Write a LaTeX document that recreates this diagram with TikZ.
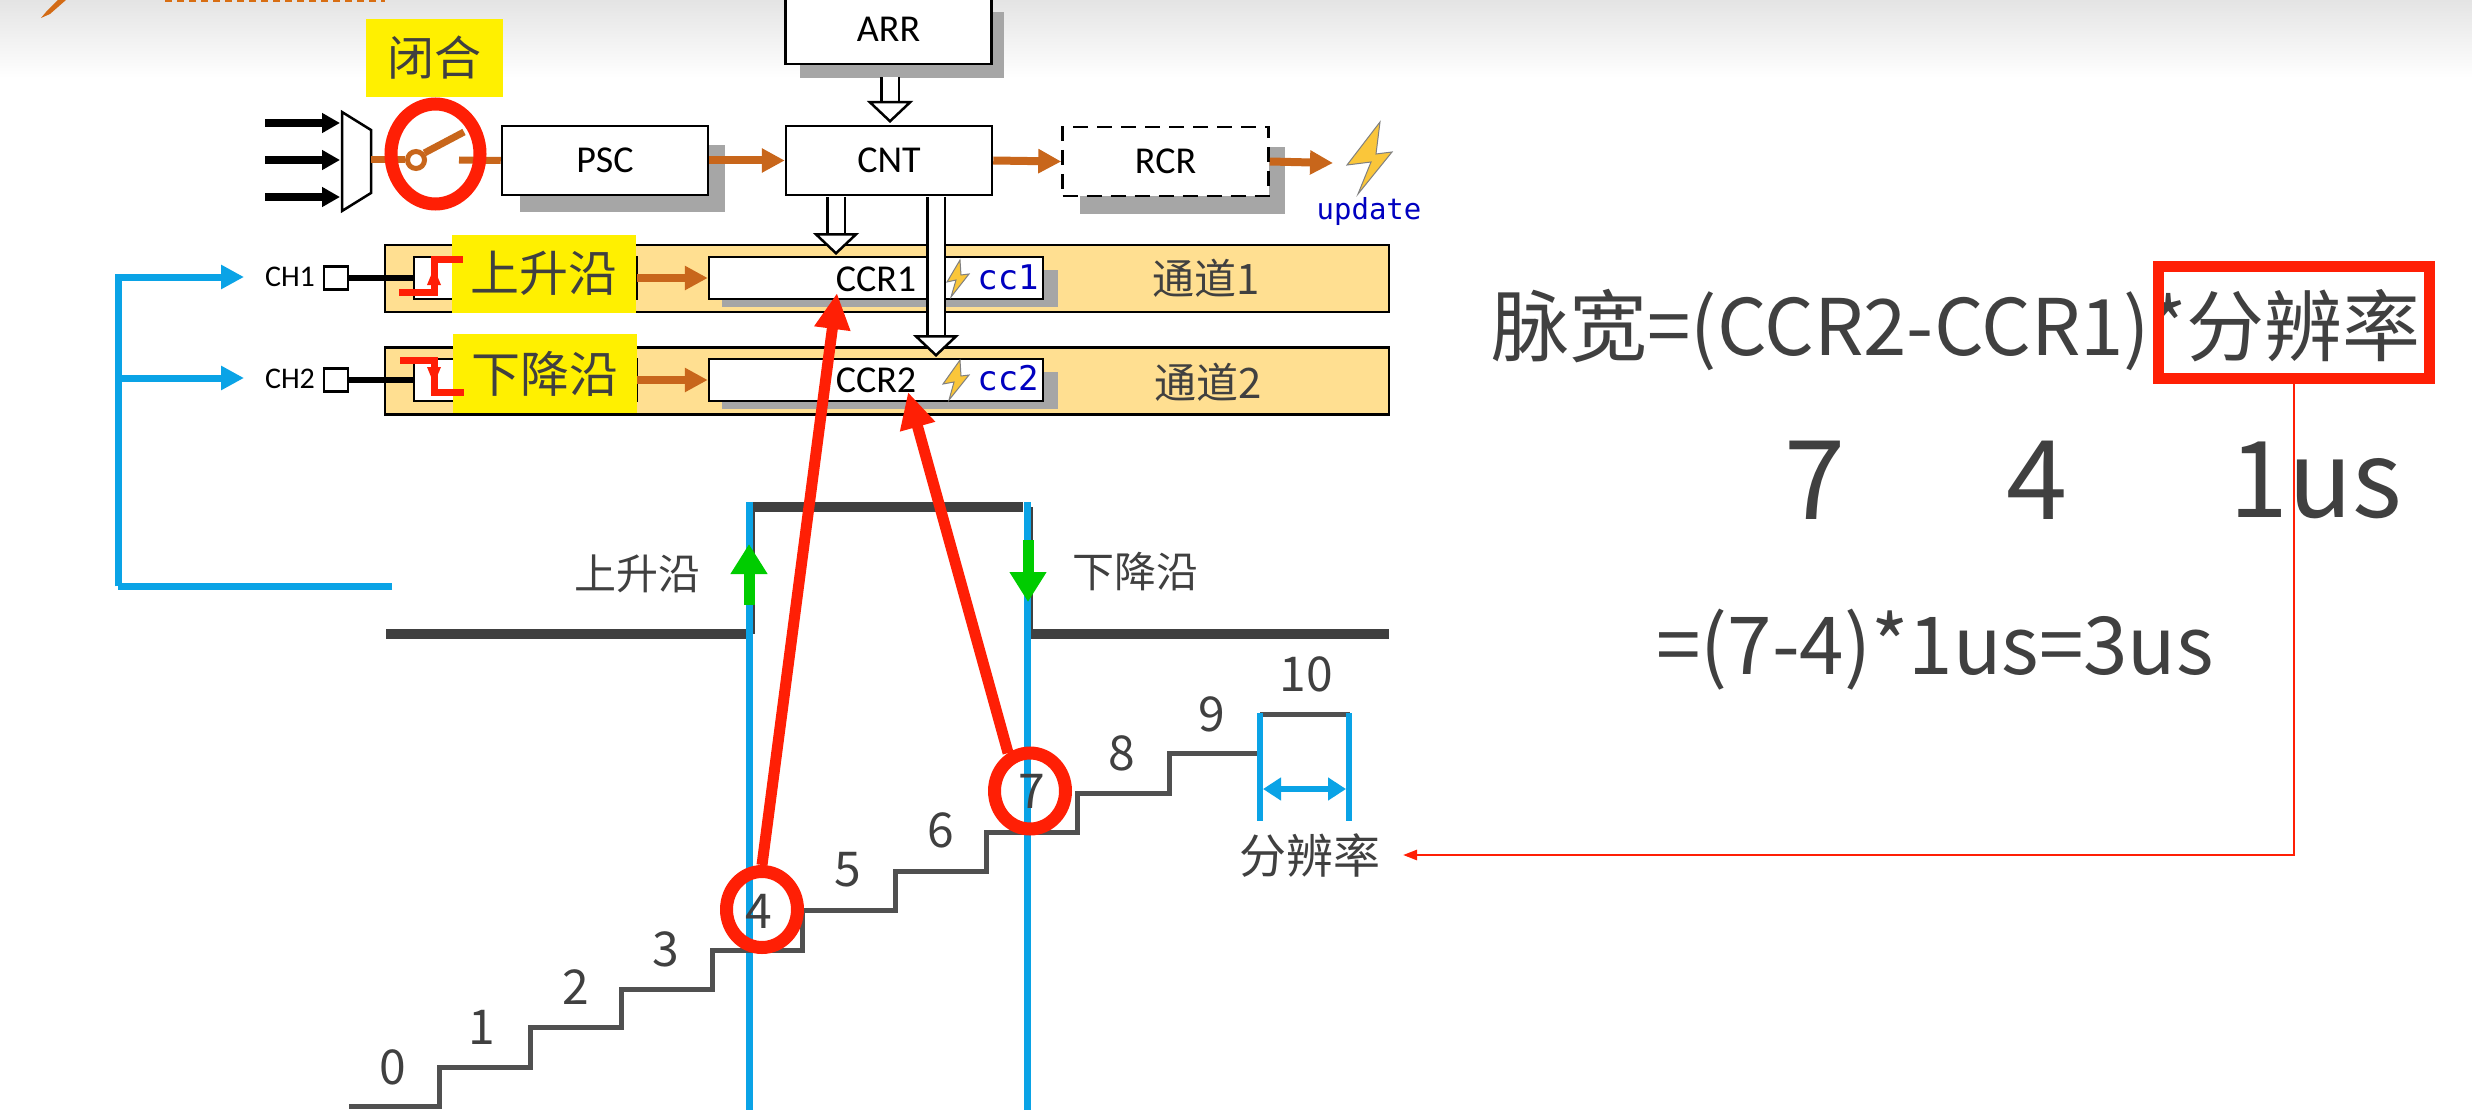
\documentclass[tikz,border=0pt]{standalone}
\usepackage{fontspec}
\setmainfont{Noto Sans CJK SC}
\newfontfamily\regfont{Carlito}
\newfontfamily\codefont{DejaVu Sans Mono}
\usepackage{tikz}
\usetikzlibrary{arrows.meta,shapes.geometric}
\definecolor{hdrgray}{HTML}{E4E4E4}
\definecolor{boxshadow}{HTML}{A6A6A6}
\definecolor{clockorange}{HTML}{C8661B}
\definecolor{chantan}{HTML}{FFDF91}
\definecolor{tagyellow}{HTML}{FFF000}
\definecolor{markred}{HTML}{FF1F05}
\definecolor{sigblue}{HTML}{0AA3E6}
\definecolor{edgegreen}{HTML}{00CC00}
\definecolor{textgray}{HTML}{404040}
\definecolor{stairgray}{HTML}{505050}
\definecolor{codeblue}{HTML}{0000C0}
\definecolor{zapyellow}{HTML}{FAC63A}
\tikzset{
	regbox/.style={draw,fill=white,line width=2.5pt,inner sep=0pt,minimum height=69pt,minimum width=206pt,font=\regfont\fontsize{38}{38}\selectfont},
	ccrbox/.style={draw,fill=white,line width=2.5pt,inner sep=0pt,minimum height=42pt,minimum width=334pt},
	capbox/.style={draw,fill=white,line width=2.5pt,inner sep=0pt,minimum height=42pt,minimum width=223pt},
	chanbox/.style={draw,fill=chantan,line width=2.5pt,inner sep=0pt,minimum height=67pt,minimum width=1004pt},
	tagbox/.style={fill=tagyellow,text=textgray,inner sep=0pt,minimum height=78pt,minimum width=184pt,font=\fontsize{49}{49}\selectfont},
	portbox/.style={draw,fill=white,line width=2.5pt,inner sep=0pt,minimum width=24pt,minimum height=23pt},
	reglabel/.style={inner sep=0pt,font=\regfont\fontsize{38}{38}\selectfont},
	chlabel/.style={inner sep=0pt,font=\regfont\fontsize{30}{30}\selectfont},
	codelabel/.style={inner sep=0pt,text=codeblue,font=\codefont\fontsize{#1}{#1}\selectfont},
	graylabel/.style={inner sep=0pt,text=textgray,font=\fontsize{#1}{#1}\selectfont},
	chanlabel/.style={inner sep=0pt,text=textgray,font=\fontsize{42}{42}\selectfont},
	marker/.style={draw=markred,line width=13pt,ellipse,inner sep=0pt,minimum width=71pt,minimum height=76pt},
	regshadow/.style={fill=boxshadow},
	inarrow/.style={line width=8pt,-{Triangle[length=18pt,width=19pt]}},
	clkarrow/.style={draw=clockorange,line width=8pt,-{Triangle[length=23pt,width=23pt,fill=clockorange]}},
	clkline/.style={draw=clockorange,line width=7pt},
	sigarrow/.style={draw=sigblue,line width=7pt,-{Triangle[length=23pt,width=23pt,fill=sigblue]}},
	sigline/.style={draw=sigblue,line width=7pt},
	hollowarrow/.style={line width=2.5pt,double=white,double distance=15pt,-{Triangle[length=22pt,width=46pt,fill=white,line width=2.5pt]}},
	redarrow/.style={draw=markred,line width=11pt,-{Triangle[length=36pt,width=34pt,fill=markred]}},
	thinarrow/.style={draw=markred,line width=2.5pt,-{Triangle[length=14pt,width=10pt,fill=markred]}},
	edgeline/.style={draw=markred,line width=7pt},
	greenarrow/.style={draw=edgegreen,line width=11pt,-{Triangle[length=30pt,width=35pt,fill=edgegreen]}},
	pulseline/.style={draw=textgray,line width=10pt},
	stairline/.style={draw=stairgray,line width=5pt,line join=miter},
	zap/.style={draw=gray,fill=zapyellow,line width=1pt,line join=miter}
}
\begin{document}
\begin{tikzpicture}[line cap=butt,line join=miter,x=1pt,y=-1pt]
	\clip(0,0) rectangle (2472,1110);
	\fill [white] (0,0) rectangle (2472,1110);
	\shade [top color=hdrgray,bottom color=white] (0,0) rectangle (2472,78);
	\fill [clockorange!80!orange] (66,0)-- (58,0)-- (46,12)-- (41,18)-- (50,14)-- cycle;
	\draw [clockorange!70!orange,line width=4pt,dash pattern=on 7pt off 5pt] (165,0)-- (385,0);

	\draw (434.5,58) node[tagbox,minimum width=137pt,font=\fontsize{47}{47}\selectfont] (closetag) {闭合};

	\fill [regshadow] (520,145) rectangle (725,212);
	\fill [regshadow] (800,12) rectangle (1004,78);
	\fill [regshadow] (1080,147) rectangle (1285,214);

	\draw (605,160.5) node[regbox] (psc) {PSC};
	\draw (888.5,29.5) node[regbox] (arr) {ARR};
	\draw (889,160.5) node[regbox] (cnt) {CNT};
	\draw (1165.5,161.5) node[regbox,dash pattern=on 15pt off 9pt] (rcr) {RCR};

	\draw [line width=2.5pt,fill=white] (342,112)-- (371,130)-- (371,193)-- (342,211)-- cycle;
	\coordinate (src1) at (265,123);
	\coordinate (src2) at (265,160);
	\coordinate (src3) at (265,197);
	\coordinate (muxin1) at (340,123);
	\coordinate (muxin2) at (340,160);
	\coordinate (muxin3) at (340,197);
	\draw [inarrow] (src1)-- (muxin1);
	\draw [inarrow] (src2)-- (muxin2);
	\draw [inarrow] (src3)-- (muxin3);

	\coordinate (muxout) at (371,160);
	\coordinate (swtip) at (464,132);
	\coordinate (swfix) at (459,160);
	\draw (416,160) node[circle,draw=clockorange,fill=white,line width=5pt,inner sep=0pt,minimum size=17pt] (swpivot) {};
	\draw [clkline] (muxout)-- (swpivot.west);
	\draw [clkline] (swpivot.40)-- (swtip);
	\draw [clkline] (swfix)-- (psc.west);
	\draw (435.5,154) node[marker,minimum width=89pt,minimum height=100pt] (swring) {};

	\draw [clkarrow] (psc.east)-- (cnt.west);
	\draw [clkarrow] (cnt.east)-- (rcr.west);
	\coordinate (updin) at (1333,163);
	\draw [clkarrow] (rcr.east)-- (updin);
	\draw [zap] (1380,122)-- (1347,165)-- (1371,162)-- (1358,194)-- (1392,152)-- (1376,154)-- cycle;
	\draw (1369,211) node[codelabel=29] (update) {update};

	\draw (887,278.5) node[chanbox] (chan1) {};
	\draw (887,381) node[chanbox] (chan2) {};

	\fill [regshadow] (722,270) rectangle (1058,307);
	\fill [regshadow] (722,372) rectangle (1058,409);
	\draw (876,278) node[ccrbox] (ccr1) {};
	\draw (876,380) node[ccrbox] (ccr2) {};
	\draw (876,279) node[reglabel] (ccr1text) {CCR1};
	\draw (876,380) node[reglabel] (ccr2text) {CCR2};
	\draw (1008,277) node[codelabel=34] (cc1) {cc1};
	\draw (1008,378) node[codelabel=34] (cc2) {cc2};
	\draw [zap] (960,260)-- (947,282)-- (956,280)-- (951,297)-- (969,274)-- (961,275)-- cycle;
	\draw [zap] (960,360)-- (943,384)-- (954,382)-- (949,400)-- (969,375)-- (961,376)-- cycle;
	\draw (1206,278) node[chanlabel] (chan1text) {通道1};
	\draw (1208,382) node[chanlabel] (chan2text) {通道2};

	\draw (525.5,278) node[capbox] (cap1) {};
	\draw (525.5,380) node[capbox] (cap2) {};
	\draw (336,278) node[portbox] (port1) {};
	\draw (336,380) node[portbox] (port2) {};
	\draw (290,277) node[chlabel] (ch1) {CH1};
	\draw (290,379) node[chlabel] (ch2) {CH2};
	\draw [line width=6pt] (port1.east)-- (cap1.west);
	\draw [line width=6pt] (port2.east)-- (cap2.west);
	\coordinate (capout1) at (637,278);
	\coordinate (capout2) at (637,380);
	\draw [clkarrow] (capout1)-- (ccr1.west);
	\draw [clkarrow] (capout2)-- (ccr2.west);
	\draw (544,273.5) node[tagbox] (risetag) {上升沿};
	\draw (545,373.5) node[tagbox,minimum height=79pt] (falltag) {下降沿};
	\draw [edgeline] (399,292)-- (434,292)-- (434,259)-- (463,259);
	\draw [edgeline] (400,360)-- (434,360)-- (434,392)-- (464,392);
	\fill [markred] (434,268)-- (427,285)-- (441,285)-- cycle;
	\fill [markred] (434,384)-- (427,367)-- (441,367)-- cycle;

	\coordinate (arrout) at (890,77);
	\coordinate (cntin) at (890,123);
	\coordinate (cntout1) at (836,197);
	\coordinate (ccr1in) at (836,255);
	\coordinate (cntout2) at (936,197);
	\coordinate (ccr2in) at (936,357);
	\draw [hollowarrow] (arrout)-- (cntin);
	\draw [hollowarrow] (cntout1)-- (ccr1in);
	\draw [hollowarrow] (cntout2)-- (ccr2in);

	\coordinate (sigend) at (392,586);
	\coordinate (sigbend) at (118,586);
	\coordinate (chtip1) at (244,277);
	\coordinate (chtip2) at (244,378);
	\draw [sigline] (sigend)-- (sigbend);
	\draw [sigarrow] (sigbend) |- (chtip2);
	\draw [sigarrow] (sigbend) |- (chtip1);

	\draw [pulseline] (386,634)-- (749,634);
	\draw [pulseline] (753,507)-- (1023,507);
	\draw [pulseline] (1030,634)-- (1389,634);
	\draw [draw=textgray,line width=3pt] (753,507)-- (753,634);
	\draw [draw=textgray,line width=3pt] (1031,507)-- (1031,634);
	\coordinate (risetop) at (749,502);
	\coordinate (risebot) at (749,1110);
	\coordinate (falltop) at (1027,502);
	\coordinate (fallbot) at (1027,1110);
	\draw [sigline] (risetop)-- (risebot);
	\draw [sigline] (falltop)-- (fallbot);

	\coordinate (upfrom) at (749,605);
	\coordinate (upto) at (749,544);
	\coordinate (downfrom) at (1028,540);
	\coordinate (downto) at (1028,602);
	\draw [greenarrow] (upfrom)-- (upto);
	\draw [greenarrow] (downfrom)-- (downto);
	\draw (637,574) node[graylabel=42] (riselabel) {上升沿};
	\draw (1135,572) node[graylabel=42] (falllabel) {下降沿};

	\draw [stairline] (349,1106)-- (439,1106)-- (439,1067)-- (530,1067)-- (530,1027)-- (621,1027)-- (621,989)-- (712,989)-- (712,950)-- (802,950)-- (802,910)-- (895,910)-- (895,871)-- (986,871)-- (986,832)-- (1077,832)-- (1077,793)-- (1169,793)-- (1169,753)-- (1258,753);
	\draw [stairline] (1260,714)-- (1350,714);

	\draw (393,1067) node[graylabel=48] (n0) {0};
	\draw (482,1027) node[graylabel=48] (n1) {1};
	\draw (576,987) node[graylabel=48] (n2) {2};
	\draw (666,949) node[graylabel=48] (n3) {3};
	\draw (759,911) node[graylabel=48] (n4) {4};
	\draw (848,870) node[graylabel=48] (n5) {5};
	\draw (941,830) node[graylabel=48] (n6) {6};
	\draw (1032,791) node[graylabel=48] (n7) {7};
	\draw (1122,753) node[graylabel=48] (n8) {8};
	\draw (1212,714) node[graylabel=48] (n9) {9};
	\draw (1306,674) node[graylabel=48] (n10) {10};

	\coordinate (tickl1) at (1260,713);
	\coordinate (tickl2) at (1260,821);
	\coordinate (tickr1) at (1349,713);
	\coordinate (tickr2) at (1349,821);
	\coordinate (spanl) at (1263,789);
	\coordinate (spanr) at (1346,789);
	\draw [draw=sigblue,line width=6pt] (tickl1)-- (tickl2);
	\draw [draw=sigblue,line width=6pt] (tickr1)-- (tickr2);
	\draw [draw=sigblue,line width=6pt,{Triangle[length=18pt,width=22pt,fill=sigblue]}-{Triangle[length=18pt,width=22pt,fill=sigblue]}] (spanl)-- (spanr);
	\draw (1310,856) node[graylabel=47] (ratelabel) {分辨率};

	\draw (762,909.5) node[marker] (ring4) {};
	\draw (1030,791) node[marker] (ring7) {};
	\coordinate (ccr1hit) at (837,293);
	\coordinate (ccr2hit) at (908,392);
	\draw [redarrow] (ring4.north)-- (ccr1hit);
	\draw [redarrow] (ring7.120)-- (ccr2hit);

	\draw (1956,330) node[graylabel=78] (formula) {脉宽=(CCR2-CCR1)*分辨率};
	\draw (2294,322.5) node[draw=markred,line width=11pt,inner sep=0pt,minimum width=271pt,minimum height=112pt] (ratebox) {};
	\draw (1815,480) node[graylabel=110] (val7) {7};
	\draw (2037,480) node[graylabel=110] (val4) {4};
	\draw (2316,480) node[graylabel=106] (val1) {1us};
	\draw (1935,650) node[graylabel=80] (result) {=(7-4)*1us=3us};
	\coordinate (ratetip) at (1403,855);
	\draw [thinarrow] (ratebox.south) |- (ratetip);
\end{tikzpicture}
\end{document}
